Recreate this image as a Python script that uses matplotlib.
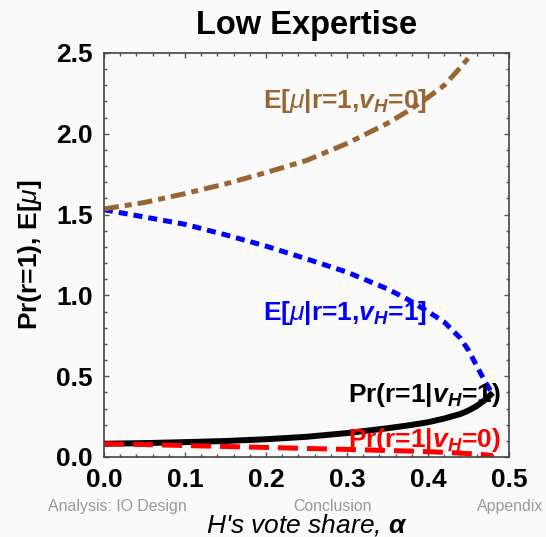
import matplotlib
matplotlib.use("Agg")
import matplotlib.pyplot as plt
from matplotlib.ticker import MultipleLocator

plt.rcParams["font.family"] = ["Liberation Sans", "DejaVu Sans"]
plt.rcParams["mathtext.fontset"] = "custom"
plt.rcParams["mathtext.rm"] = "Liberation Sans"
plt.rcParams["mathtext.it"] = "Liberation Sans:italic"
plt.rcParams["mathtext.bf"] = "Liberation Sans:bold"
plt.rcParams["mathtext.bfit"] = "Liberation Sans:italic:bold"

# H's vote share (alpha) and the four model curves
alpha = [0.0, 0.05, 0.10, 0.15, 0.20, 0.25, 0.30, 0.35, 0.375, 0.40, 0.42, 0.44,
         0.45, 0.46, 0.47, 0.475, 0.48]
pr_r1_vh1 = [0.082, 0.086, 0.092, 0.099, 0.110, 0.125, 0.148, 0.178, 0.195, 0.215,
             0.238, 0.266, 0.288, 0.315, 0.352, 0.374, 0.398]
pr_r1_vh0 = [0.082, 0.077, 0.071, 0.065, 0.059, 0.053, 0.047, 0.040, 0.037, 0.033,
             0.029, 0.024, 0.021, 0.018, 0.014, 0.011, 0.008]
e_mu_vh1 = [1.530, 1.485, 1.440, 1.375, 1.305, 1.226, 1.144, 1.040, 0.975, 0.900,
            0.835, 0.735, 0.660, 0.565, 0.470, 0.428, 0.385]
alpha_vh0 = [0.0, 0.05, 0.10, 0.15, 0.20, 0.25, 0.30, 0.35, 0.375, 0.40, 0.42, 0.44,
             0.45, 0.456]
e_mu_vh0 = [1.535, 1.575, 1.630, 1.690, 1.760, 1.835, 1.940, 2.065, 2.140, 2.225,
            2.300, 2.410, 2.470, 2.520]

xticks = [0.0, 0.1, 0.2, 0.3, 0.4, 0.5]
xtick_labels = ["0.0", "0.1", "0.2", "0.3", "0.4", "0.5"]
yticks = [0.0, 0.5, 1.0, 1.5, 2.0, 2.5]
ytick_labels = ["0.0", "0.5", "1.0", "1.5", "2.0", "2.5"]

curve_labels = [
    (r"E[$\mathit{\mu}$|r=1,$\mathbfit{v}_{\mathbfit{H}}$=0]", 0.1963, 2.158, "#996633"),
    (r"E[$\mathit{\mu}$|r=1,$\mathbfit{v}_{\mathbfit{H}}$=1]", 0.1963, 0.848, "#0000ff"),
    (r"Pr(r=1|$\mathbfit{v}_{\mathbfit{H}}$=1)", 0.301, 0.342, "#000000"),
    (r"Pr(r=1|$\mathbfit{v}_{\mathbfit{H}}$=0)", 0.301, 0.064, "#ff0000"),
]

footer = [("Analysis: IO Design", 48, "left"), ("Conclusion", 332, "center"), ("Appendix", 543, "right")]

BG = "#fafafa"
W, H = 546, 537
fig = plt.figure(figsize=(W / 100, H / 100), dpi=100, facecolor=BG)
ax = fig.add_axes([104 / W, 80 / H, 405 / W, 404 / H], facecolor=BG)

ax.plot(alpha, pr_r1_vh1, color="black", lw=4.3, solid_capstyle="butt",
        solid_joinstyle="round", zorder=2)
ax.plot(alpha, pr_r1_vh0, color="#ff0000", lw=3.6, dashes=(4.0, 1.8),
        dash_capstyle="butt", zorder=2.1)
ax.plot(alpha, e_mu_vh1, color="#0000ff", lw=3.6, dashes=(1.8, 1.2),
        dash_capstyle="butt", zorder=2.2)
ax.plot(alpha_vh0, e_mu_vh0, color="#996633", lw=3.6, dashes=(3.0, 1.2, 1.4, 1.2),
        dash_capstyle="butt", zorder=2.3)

for txt, x, y, col in curve_labels:
    ax.text(x, y, txt, color=col, fontsize=19, fontweight="bold",
            ha="left", va="baseline", zorder=4)

ax.set_xlim(0, 0.5)
ax.set_ylim(0, 2.5)
ax.set_xticks(xticks, labels=xtick_labels, fontsize=19, fontweight="bold")
ax.set_yticks(yticks, labels=ytick_labels, fontsize=19, fontweight="bold")
ax.xaxis.set_minor_locator(MultipleLocator(0.02))
ax.yaxis.set_minor_locator(MultipleLocator(0.1))
ax.tick_params(which="both", direction="in", top=True, right=True,
               color="#555555", width=1.0)
ax.tick_params(which="major", length=3.8, pad=8)
ax.tick_params(which="minor", length=2.4)
for sp in ax.spines.values():
    sp.set_color("#444444")
    sp.set_linewidth(1.2)

ax.set_title("Low Expertise", fontsize=23.5, fontweight="bold", pad=13.7)

ax.set_ylabel(r"Pr(r=1), E[$\mathit{\mu}$]", fontsize=19, fontweight="bold")
ax.yaxis.label.set_verticalalignment("baseline")
ax.yaxis.set_label_coords((36.5 - 104) / 405, 0.5)

ax.set_xlabel(r"H's vote share, $\mathbfit{\alpha}$", fontsize=19, fontstyle="italic")
ax.xaxis.label.set_verticalalignment("baseline")
ax.xaxis.set_label_coords(0.5, (457 - 533) / 404)

for txt, xpx, ha in footer:
    fig.text(xpx / W, (H - 511) / H, txt, fontsize=11.4, color="#9a9a9a",
             ha=ha, va="baseline")

fig.savefig("out.png", dpi=100, facecolor=BG)
